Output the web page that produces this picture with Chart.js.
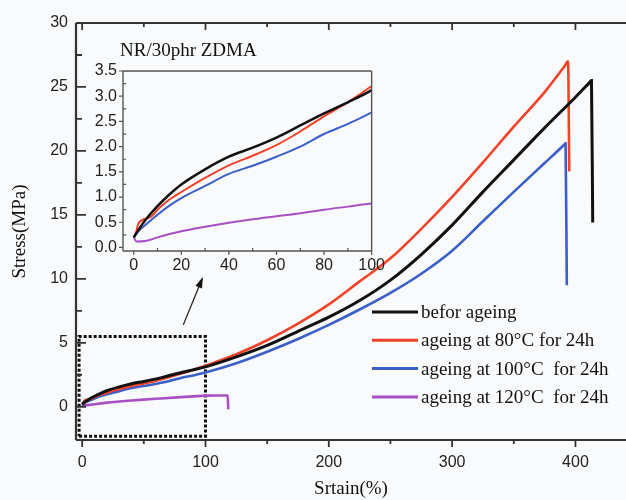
<!DOCTYPE html>
<html>
<head>
<meta charset="utf-8">
<script src="https://cdn.jsdelivr.net/npm/chart.js@4.4.0/dist/chart.umd.min.js"></script>
<style>
  html, body { margin: 0; padding: 0; background: #f9fafc; }
  #wrap { position: relative; width: 626px; height: 500px; }
  #main { position: absolute; left: 0; top: 0; }
  #inset { position: absolute; left: 60px; top: 30px; }
</style>
</head>
<body>
<div id="wrap">
  <canvas id="main" width="626" height="500"></canvas>
  <canvas id="inset" width="330" height="250"></canvas>
</div>
<script>
// curves: strain (%) and stress (MPa)
const blackStrain = [0, 2, 5, 10, 15, 20, 30, 40, 50, 60, 70, 80, 90, 100, 125, 150, 175, 200, 225, 250, 275, 300, 325, 350, 375, 400, 411, 413, 414];
const blackStress = [0.2, 0.35, 0.55, 0.82, 1.05, 1.25, 1.55, 1.8, 1.98, 2.18, 2.42, 2.66, 2.88, 3.12, 3.9, 4.8, 5.9, 7.0, 8.3, 9.9, 11.9, 14.2, 16.8, 19.3, 21.8, 24.2, 25.3, 25.5, 14.4];

const redStrain = [0, 1, 2, 7, 10, 15, 20, 30, 40, 50, 60, 70, 80, 90, 100, 125, 150, 175, 200, 225, 250, 275, 300, 325, 350, 375, 391, 394, 395];
const redStress = [0.2, 0.3, 0.48, 0.6, 0.75, 0.95, 1.1, 1.38, 1.63, 1.82, 2.03, 2.3, 2.6, 2.88, 3.2, 4.1, 5.2, 6.5, 8.0, 9.8, 11.6, 13.9, 16.4, 19.1, 21.9, 24.6, 26.6, 27.0, 18.4];

const blueStrain = [0, 2, 5, 10, 15, 20, 30, 40, 50, 60, 70, 80, 90, 100, 125, 150, 175, 200, 225, 250, 275, 300, 325, 350, 375, 390, 392, 393];
const blueStress = [0.2, 0.32, 0.45, 0.65, 0.83, 0.98, 1.22, 1.46, 1.62, 1.8, 2.0, 2.25, 2.45, 2.68, 3.4, 4.3, 5.3, 6.4, 7.6, 8.9, 10.4, 12.2, 14.5, 16.8, 19.05, 20.4, 20.6, 9.5];

const purpleStrain = [0, 1, 5, 10, 20, 30, 40, 50, 60, 70, 80, 90, 100, 110, 118, 118.5];
const purpleStress = [0.22, 0.12, 0.13, 0.2, 0.32, 0.41, 0.49, 0.56, 0.62, 0.68, 0.75, 0.81, 0.87, 0.88, 0.88, -0.2];

const seriesLabels = ['befor ageing', 'ageing at 80°C for 24h', 'ageing at 100°C  for 24h', 'ageing at 120°C  for 24h'];

// zoom box and arrow pointing at the inset
const boxStrain = [-2.5, 100, 100, -2.5, -2.5];
const boxStress = [-2.3, -2.3, 5.5, 5.5, -2.3];
const arrowStrain = [82, 97.3];
const arrowStress = [6.4, 10];

// ticks
const mainXTicks = [0, 100, 200, 300, 400];
const mainXMinor = [50, 150, 250, 350];
const mainYTicks = [0, 5, 10, 15, 20, 25, 30];
const mainYMinor = [2.5, 7.5, 12.5, 17.5, 22.5, 27.5];
const insetXTicks = [0, 20, 40, 60, 80, 100];
const insetXMinor = [10, 30, 50, 70, 90];
const insetYTicks = [0, 0.5, 1, 1.5, 2, 2.5, 3, 3.5];
const insetYMinor = [0.25, 0.75, 1.25, 1.75, 2.25, 2.75, 3.25];

const colors = ['#111111', '#f2432a', '#3b5fc8', '#a650c4'];
const SANS = "'Liberation Sans', Arial, sans-serif";
const SERIF = "'Liberation Serif', 'Times New Roman', serif";

function pts(xs, ys) {
    return xs.map((x, i) => ({ x: x, y: ys[i] }));
}

function curve(xs, ys, i, width) {
    return {
        label: seriesLabels[i], data: pts(xs, ys), inLegend: true,
        borderColor: colors[i], borderWidth: width, pointRadius: 0,
        cubicInterpolationMode: 'monotone', fill: false
    };
}

// axis lines and tick marks, drawn from the scales
const framePlugin = {
    id: 'frame',
    afterDatasetsDraw(chart, args, opts) {
        const { ctx, chartArea: a, scales } = chart;
        ctx.save();
        ctx.strokeStyle = opts.color;
        ctx.lineWidth = opts.lineWidth;
        ctx.beginPath();
        opts.sides.forEach(s => {
            if (s === 'left') { ctx.moveTo(a.left, a.top); ctx.lineTo(a.left, a.bottom); }
            if (s === 'right') { ctx.moveTo(a.right, a.top); ctx.lineTo(a.right, a.bottom); }
            if (s === 'top') { ctx.moveTo(a.left, a.top); ctx.lineTo(a.right, a.top); }
            if (s === 'bottom') { ctx.moveTo(a.left, a.bottom); ctx.lineTo(a.right, a.bottom); }
        });
        ctx.stroke();
        ctx.lineWidth = opts.tickWidth;
        ctx.beginPath();
        opts.ticks.forEach(t => {
            const sc = scales[t.axis];
            t.values.forEach(v => {
                const p = sc.getPixelForValue(v);
                if (t.side === 'left') { ctx.moveTo(a.left, p); ctx.lineTo(a.left + t.dir * t.len, p); }
                if (t.side === 'bottom') { ctx.moveTo(p, a.bottom); ctx.lineTo(p, a.bottom - t.dir * t.len); }
                if (t.side === 'top') { ctx.moveTo(p, a.top); ctx.lineTo(p, a.top + t.dir * t.len); }
            });
        });
        ctx.stroke();
        ctx.restore();
    }
};

// arrow head on the last segment of the arrow dataset
const arrowPlugin = {
    id: 'arrowHead',
    afterDatasetsDraw(chart, args, opts) {
        if (opts.index === undefined) return;
        const pts = chart.getDatasetMeta(opts.index).data;
        const p0 = pts[pts.length - 2], p1 = pts[pts.length - 1];
        const ang = Math.atan2(p1.y - p0.y, p1.x - p0.x);
        const ctx = chart.ctx;
        ctx.save();
        ctx.fillStyle = '#111';
        ctx.translate(p1.x, p1.y);
        ctx.rotate(ang);
        ctx.beginPath();
        ctx.moveTo(2, 0);
        ctx.lineTo(-9, -3.5);
        ctx.lineTo(-9, 3.5);
        ctx.closePath();
        ctx.fill();
        ctx.restore();
    }
};

// legend in the lower right corner of the plot
const cornerLegend = {
    id: 'cornerLegend',
    afterDatasetsDraw(chart, args, opts) {
        if (!opts.show) return;
        const ctx = chart.ctx;
        ctx.save();
        ctx.font = opts.font;
        ctx.textBaseline = 'middle';
        ctx.fillStyle = '#111';
        let row = 0;
        chart.data.datasets.forEach(ds => {
            if (!ds.inLegend) return;
            const y = opts.y + row * opts.gap;
            ctx.strokeStyle = ds.borderColor;
            ctx.lineWidth = 3;
            ctx.beginPath();
            ctx.moveTo(opts.x, y);
            ctx.lineTo(opts.x + opts.lineLen, y);
            ctx.stroke();
            ctx.fillText(ds.label, opts.x + opts.lineLen + 3, y + 1);
            row++;
        });
        ctx.restore();
    }
};

// inset title
const insetTitle = {
    id: 'insetTitle',
    afterDraw(chart, args, opts) {
        if (!opts.text) return;
        const ctx = chart.ctx;
        ctx.save();
        ctx.font = opts.font;
        ctx.fillStyle = '#111';
        ctx.textBaseline = 'middle';
        ctx.fillText(opts.text, opts.x, opts.y);
        ctx.restore();
    }
};

const mainChart = new Chart(document.getElementById('main'), {
    type: 'line',
    data: {
        datasets: [
            curve(blackStrain, blackStress, 0, 3),
            curve(redStrain, redStress, 1, 2.6),
            curve(blueStrain, blueStress, 2, 2.6),
            curve(purpleStrain, purpleStress, 3, 2.6),
            { data: pts(boxStrain, boxStress), borderColor: '#111', borderWidth: 3, borderDash: [3, 2], pointRadius: 0, tension: 0 },
            { data: pts(arrowStrain, arrowStress), borderColor: '#222', borderWidth: 1.3, pointRadius: 0, tension: 0 }
        ]
    },
    options: {
        responsive: false,
        animation: false,
        devicePixelRatio: 1,
        layout: { padding: { top: 23, right: 0, left: 0, bottom: 0 } },
        scales: {
            x: {
                type: 'linear', min: -5, max: 441,
                afterBuildTicks: s => { s.ticks = mainXTicks.map(v => ({ value: v })); },
                afterFit: s => { s.height = 60; },
                grid: { display: false, drawTicks: false },
                border: { display: false },
                ticks: { padding: 13, color: '#222', font: { family: SANS, size: 16 } },
                title: { display: true, text: 'Srtain(%)', color: '#111', padding: { top: 0, bottom: 0 }, font: { family: SERIF, size: 19 } }
            },
            y: {
                type: 'linear', min: -2.6, max: 30,
                afterBuildTicks: s => { s.ticks = mainYTicks.map(v => ({ value: v })); },
                afterFit: s => { s.width = 76; },
                grid: { display: false, drawTicks: false },
                border: { display: false },
                ticks: { padding: 8, color: '#222', font: { family: SANS, size: 16 } },
                title: { display: true, text: 'Stress(MPa)', color: '#111', padding: { top: 9, bottom: 0 }, font: { family: SERIF, size: 19 } }
            }
        },
        plugins: {
            legend: { display: false },
            tooltip: { enabled: false },
            frame: {
                color: '#333', lineWidth: 2.2, tickWidth: 1.8,
                sides: ['left', 'bottom', 'top'],
                ticks: [
                    { side: 'left', axis: 'y', values: mainYTicks, len: 10, dir: 1 },
                    { side: 'left', axis: 'y', values: mainYMinor, len: 6, dir: 1 },
                    { side: 'bottom', axis: 'x', values: mainXTicks, len: 7, dir: -1 },
                    { side: 'bottom', axis: 'x', values: mainXMinor, len: 4, dir: -1 },
                    { side: 'top', axis: 'x', values: mainXTicks, len: 7, dir: 1 },
                    { side: 'top', axis: 'x', values: mainXMinor, len: 4, dir: 1 }
                ]
            },
            arrowHead: { index: 5 },
            cornerLegend: { show: true, x: 372, y: 312, gap: 28.3, lineLen: 46, font: '19px ' + SERIF },
            insetTitle: {}
        }
    },
    plugins: [framePlugin, arrowPlugin, cornerLegend, insetTitle]
});

const insetChart = new Chart(document.getElementById('inset'), {
    type: 'line',
    data: {
        datasets: [
            curve(blackStrain, blackStress, 0, 2.5),
            curve(redStrain, redStress, 1, 2),
            curve(blueStrain, blueStress, 2, 2),
            curve(purpleStrain, purpleStress, 3, 2)
        ]
    },
    options: {
        responsive: false,
        animation: false,
        devicePixelRatio: 1,
        layout: { padding: { top: 41, right: 9, left: 0, bottom: 0 } },
        scales: {
            x: {
                type: 'linear', min: -4.5, max: 100,
                afterBuildTicks: s => { s.ticks = insetXTicks.map(v => ({ value: v })); },
                afterFit: s => { s.height = 29; },
                grid: { display: false, drawTicks: false },
                border: { display: false },
                ticks: { padding: 5, color: '#222', font: { family: SANS, size: 16 } }
            },
            y: {
                type: 'linear', min: -0.07, max: 3.5,
                afterBuildTicks: s => { s.ticks = insetYTicks.map(v => ({ value: v })); },
                afterFit: s => { s.width = 63; },
                grid: { display: false, drawTicks: false },
                border: { display: false },
                ticks: { padding: 6, color: '#222', font: { family: SANS, size: 16 }, callback: v => v.toFixed(1) }
            }
        },
        plugins: {
            legend: { display: false },
            tooltip: { enabled: false },
            frame: {
                color: '#555', lineWidth: 1.4, tickWidth: 1.2,
                sides: ['left', 'bottom', 'top', 'right'],
                ticks: [
                    { side: 'left', axis: 'y', values: insetYTicks, len: 4, dir: -1 },
                    { side: 'left', axis: 'y', values: insetYMinor, len: 3, dir: 1 },
                    { side: 'bottom', axis: 'x', values: insetXTicks, len: 4, dir: -1 },
                    { side: 'bottom', axis: 'x', values: insetXMinor, len: 3, dir: 1 }
                ]
            },
            arrowHead: {},
            cornerLegend: { show: false },
            insetTitle: { text: 'NR/30phr ZDMA', x: 60, y: 21, font: '19px ' + SERIF }
        }
    },
    plugins: [framePlugin, arrowPlugin, cornerLegend, insetTitle]
});
</script>
</body>
</html>
